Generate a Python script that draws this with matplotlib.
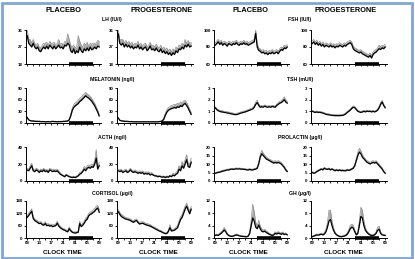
import numpy as np
import matplotlib
matplotlib.use("Agg")
import matplotlib.pyplot as plt
from matplotlib.patches import Rectangle

plt.rcParams['font.family'] = ['Liberation Sans', 'DejaVu Sans']
plt.rcParams['font.weight'] = 'bold'

W, H = 415, 259

hours = np.arange(0, 24.5, 0.5)
tick_hours = [0, 4, 8, 12, 16, 20, 24]
tick_labels = ["09", "13", "17", "21", "01", "05", "09"]
sleep_period = (14, 22)

col_titles = ["PLACEBO", "PROGESTERONE", "PLACEBO", "PROGESTERONE"]

# ---------------- data (mean, SEM) ----------------
lh_pla = [33, 29, 28, 27, 29, 27, 26, 27, 25, 24.5, 26, 27, 26, 27.5, 26, 28, 27, 26, 27.5, 26, 27, 28, 26.5, 27, 26,
          28, 27.5, 29, 28, 25, 24, 26, 23.5, 25, 24, 27, 25, 24, 26, 25, 26.5, 25, 27, 25.5, 26, 27, 26, 27.5, 27]
lh_pla_sem = [3, 2, 3, 2, 2, 2, 2, 2, 2, 2, 2, 2, 3, 2, 2, 2, 2, 3, 2, 2, 2, 3, 2, 2, 2,
              2, 2, 5, 3, 3, 3, 2, 3, 2, 9, 3, 3, 3, 3, 3, 3, 2, 2, 3, 3, 2, 3, 3, 3]
lh_pro = [34, 29, 28, 29, 27, 28.5, 27, 28, 26.5, 27.5, 26, 27, 26.5, 28, 26, 27, 25.5, 26.5, 27, 25, 26, 27.5, 25.5, 26, 25,
          26.5, 25, 24.5, 26, 24, 25, 23.5, 24.5, 23, 24, 22.5, 24, 23, 25, 24, 26, 25.5, 27, 26, 28, 27, 28.5, 27, 27.5]
lh_pro_sem = [2, 2, 3, 2, 2, 2, 2, 2, 2, 2, 2, 2, 2, 2, 2, 2, 2, 2, 2, 2, 2, 2, 2, 2, 2,
              2, 2, 2, 2, 2, 2, 2, 2, 2, 2, 2, 2, 2, 2, 2, 2, 2, 2, 2, 3, 2, 2, 2, 2]

fsh_pla = [82, 84, 86, 83, 85, 82, 84, 83, 81, 84, 83, 82, 84, 83, 85, 83, 82, 84, 83, 85, 83, 84, 82, 83, 84,
           85, 86, 96, 80, 76, 75, 73, 74, 72, 73, 71, 73, 72, 74, 72, 73, 74, 72, 75, 77, 76, 79, 78, 80]
fsh_pla_sem = [3, 3, 3, 3, 3, 3, 3, 3, 3, 3, 3, 3, 3, 3, 3, 3, 3, 3, 3, 3, 3, 3, 3, 3, 3,
               3, 3, 4, 4, 3, 3, 3, 3, 3, 3, 3, 3, 3, 3, 3, 3, 3, 3, 3, 3, 3, 3, 3, 3]
fsh_pro = [84, 86, 83, 85, 82, 84, 81, 83, 80, 82, 81, 80, 82, 80, 81, 79, 81, 80, 82, 81, 80, 82, 81, 83, 84,
           85, 83, 78, 76, 75, 74, 73, 74, 72, 71, 70, 69, 68, 70, 67, 71, 73, 74, 76, 78, 77, 79, 78, 80]
fsh_pro_sem = [3, 3, 3, 3, 3, 3, 3, 3, 3, 3, 3, 3, 3, 3, 3, 3, 3, 3, 3, 3, 3, 3, 3, 3, 3,
               3, 3, 3, 3, 3, 3, 3, 3, 3, 3, 3, 3, 3, 3, 3, 3, 3, 3, 3, 4, 3, 3, 4, 3]

mel_pla = [14, 8, 6, 5, 5, 4.5, 4, 4, 4, 3.5, 3.5, 3.5, 3, 3, 3.5, 3, 3.5, 4, 3.5, 3.5, 3, 3.5, 3.5, 3.5, 4,
           4, 4.5, 5, 8, 18, 32, 40, 44, 47, 50, 55, 58, 62, 66, 70, 66, 64, 60, 56, 50, 44, 36, 28, 18]
mel_pla_sem = [2, 1, 1, 1, 1, 1, 1, 1, 1, 1, 1, 1, 1, 1, 1, 1, 1, 1, 1, 1, 1, 1, 1, 1, 1,
               1, 1, 1, 2, 4, 6, 7, 8, 8, 8, 8, 8, 9, 9, 9, 9, 8, 8, 8, 7, 7, 6, 5, 4]
mel_pro = [13, 7, 5.5, 5, 4.5, 4, 4, 3.5, 3.5, 3.5, 3, 3, 3, 3, 3, 3, 3, 3, 3, 3, 3, 3, 3, 3, 3,
           3, 3, 3.5, 4, 5, 10, 20, 28, 33, 35, 37, 38, 40, 38, 42, 40, 45, 42, 48, 50, 45, 38, 30, 22]
mel_pro_sem = [2, 1, 1, 1, 1, 1, 1, 1, 1, 1, 1, 1, 1, 1, 1, 1, 1, 1, 1, 1, 1, 1, 1, 1, 1,
               1, 1, 1, 1, 2, 3, 5, 6, 7, 7, 8, 8, 8, 9, 9, 9, 9, 9, 9, 8, 8, 7, 6, 5]

tsh_pla = [1.3, 1.15, 1.05, 1.0, 0.95, 0.95, 0.9, 0.9, 0.85, 0.85, 0.8, 0.78, 0.75, 0.72, 0.72, 0.75, 0.8, 0.85,
           0.88, 0.92, 0.95, 1.0, 1.05, 1.1, 1.15, 1.2, 1.35, 1.6, 1.75, 1.5, 1.35, 1.4, 1.35, 1.45, 1.38, 1.35,
           1.4, 1.35, 1.42, 1.38, 1.35, 1.5, 1.6, 1.7, 1.75, 1.85, 2.0, 1.8, 1.7]
tsh_pla_sem = [0.1] * 26 + [0.15, 0.2, 0.2, 0.15, 0.1, 0.1, 0.1, 0.1, 0.1, 0.1, 0.1, 0.1, 0.1, 0.1, 0.1, 0.1,
                            0.15, 0.15, 0.15, 0.2, 0.25, 0.2, 0.15]
tsh_pro = [1.0, 0.95, 0.9, 0.95, 0.9, 0.92, 0.88, 0.85, 0.8, 0.75, 0.72, 0.7, 0.68, 0.65, 0.64, 0.63, 0.63, 0.63,
           0.63, 0.64, 0.65, 0.7, 0.78, 0.9, 1.0, 1.1, 1.25, 1.35, 1.3, 1.15, 1.0, 0.95, 0.9, 0.95, 1.0, 0.95,
           1.02, 0.98, 1.0, 0.95, 1.0, 0.95, 1.0, 1.1, 1.3, 1.6, 1.8, 1.5, 1.3]
tsh_pro_sem = [0.08] * 26 + [0.1, 0.12, 0.12, 0.1, 0.08, 0.08, 0.08, 0.08, 0.08, 0.08, 0.08, 0.08, 0.08, 0.08,
                             0.08, 0.08, 0.08, 0.1, 0.12, 0.15, 0.15, 0.12, 0.1]

acth_pla = [13, 12, 15, 18, 12, 11, 13, 12, 10, 12, 11, 13, 11, 12, 10, 13, 12, 11, 12, 11, 12, 10, 8, 7, 6,
            5, 7, 6, 5, 4.5, 4, 4.5, 4, 5, 6, 8, 9, 11, 14, 12, 15, 16, 15, 17, 16, 20, 27, 14, 18]
acth_pla_sem = [2, 2, 3, 3, 2, 2, 2, 2, 2, 2, 2, 2, 2, 2, 2, 2, 2, 2, 2, 2, 2, 2, 2, 1, 1,
                1, 1, 1, 1, 1, 1, 1, 1, 1, 1, 2, 2, 2, 3, 3, 3, 3, 3, 3, 3, 4, 10, 3, 4]
acth_pro = [12, 11, 12, 10, 11, 12, 10, 11, 13, 11, 10, 11, 10, 9, 10, 9, 10, 8, 9, 8, 9, 7, 8, 7, 6,
            6, 5, 5.5, 5, 4.5, 5, 4, 5, 4.5, 6, 5, 7, 6, 8, 9, 14, 12, 18, 15, 20, 25, 17, 16, 22]
acth_pro_sem = [2, 2, 2, 2, 2, 2, 2, 2, 2, 2, 2, 2, 2, 2, 2, 2, 2, 2, 2, 2, 2, 2, 2, 1, 1,
                1, 1, 1, 1, 1, 1, 1, 1, 1, 1, 1, 2, 2, 2, 3, 4, 3, 5, 4, 5, 6, 4, 4, 5]

prl_pla = [4.5, 4.8, 5.0, 5.2, 5.5, 5.8, 6.0, 6.2, 6.5, 6.5, 6.8, 7.0, 6.8, 7.0, 7.2, 7.0, 7.2, 7.0, 7.0, 6.8,
           6.8, 6.5, 6.5, 6.8, 6.5, 6.5, 6.8, 7.0, 7.5, 10, 14, 16, 15, 14, 13, 12.5, 12, 11.5, 11, 10.5, 11,
           10.5, 11, 10.5, 10, 9, 8, 6.5, 5.5]
prl_pla_sem = [0.5] * 28 + [0.8, 1.0, 1.5, 2.0, 1.5, 1.2, 1.2, 1.0, 1.0, 1.0, 1.0, 1.0, 1.0, 1.0, 1.0, 1.0,
                            1.0, 0.8, 0.8, 0.8, 0.6]
prl_pro = [5, 4.5, 4.8, 5.5, 6.0, 6.5, 7.0, 6.5, 7.5, 7.0, 6.8, 7.2, 6.5, 7.0, 6.5, 6.0, 6.5, 6.0, 6.5, 6.0,
           6.2, 6.0, 6.0, 6.5, 6.2, 6.5, 7.0, 7.5, 9, 12, 15, 17, 16, 14, 13, 12, 11, 10.5, 10, 10.5, 11, 10.5,
           11, 10, 9, 8, 7, 5.5, 4.5]
prl_pro_sem = [0.5] * 28 + [0.8, 1.2, 1.8, 2.2, 1.8, 1.5, 1.2, 1.0, 1.0, 1.0, 1.0, 1.0, 1.0, 1.0, 1.0, 1.0,
                            1.0, 0.8, 0.8, 0.7, 0.6]

cort_pla = [100, 110, 120, 130, 95, 85, 80, 75, 70, 72, 65, 62, 70, 60, 62, 58, 60, 55, 58, 60, 72, 58, 50, 45, 40,
            38, 33, 30, 45, 35, 28, 25, 24, 26, 28, 70, 55, 62, 72, 85, 92, 108, 115, 118, 125, 130, 140, 145, 125]
cort_pla_sem = [10, 10, 12, 12, 10, 8, 8, 8, 8, 8, 8, 8, 10, 8, 8, 8, 8, 8, 8, 8, 10, 8, 8, 6, 6,
                6, 6, 6, 8, 6, 5, 5, 5, 5, 5, 12, 8, 10, 10, 12, 12, 12, 12, 12, 12, 14, 14, 14, 14]
cort_pro = [128, 115, 105, 100, 95, 92, 90, 88, 85, 80, 76, 82, 85, 75, 68, 70, 72, 68, 65, 62, 60, 58, 54, 50, 46,
            42, 38, 34, 32, 27, 24, 21, 22, 32, 50, 34, 36, 38, 44, 50, 70, 90, 100, 120, 140, 155, 135, 118, 140]
cort_pro_sem = [10, 10, 10, 10, 10, 8, 8, 8, 8, 8, 8, 8, 8, 8, 8, 8, 8, 8, 8, 8, 8, 8, 6, 6, 6,
                6, 6, 5, 5, 5, 4, 4, 4, 6, 15, 6, 6, 6, 8, 8, 12, 14, 14, 15, 15, 15, 14, 14, 14]

gh_pla = [0.8, 1.0, 0.8, 1.2, 1.5, 2.0, 2.6, 2.0, 1.2, 0.8, 0.6, 0.5, 0.6, 0.8, 1.0, 0.9, 0.7, 0.6, 0.5, 0.5,
          0.4, 0.4, 0.6, 1.5, 4.0, 6.5, 5.5, 3.5, 3.0, 4.2, 3.0, 2.2, 2.0, 2.2, 1.8, 1.5, 1.2, 1.0, 0.8, 1.0,
          1.5, 1.3, 1.6, 1.4, 1.2, 1.5, 1.1, 1.3, 1.0]
gh_pla_sem = [0.3, 0.3, 0.3, 0.4, 0.5, 0.6, 0.8, 0.6, 0.4, 0.3, 0.2, 0.2, 0.2, 0.3, 0.3, 0.3, 0.2, 0.2, 0.2, 0.2,
              0.2, 0.2, 0.2, 0.6, 2.0, 4.5, 3.0, 1.5, 1.0, 1.5, 1.0, 0.8, 0.6, 0.6, 0.5, 0.5, 0.4, 0.3, 0.3, 0.3,
              0.5, 0.4, 0.5, 0.4, 0.4, 0.5, 0.3, 0.4, 0.3]
gh_pro = [0.4, 0.6, 0.8, 1.0, 0.9, 1.1, 1.2, 1.0, 1.3, 2.0, 3.5, 5.5, 6.0, 4.0, 2.5, 1.5, 1.0, 0.7, 0.5, 0.4,
          0.5, 0.6, 0.8, 1.2, 2.0, 3.0, 3.5, 3.2, 2.0, 1.0, 1.5, 4.0, 7.0, 6.5, 4.0, 2.5, 1.8, 1.3, 1.0, 0.8,
          0.8, 1.0, 1.5, 2.5, 2.8, 1.5, 1.0, 0.9, 0.8]
gh_pro_sem = [0.2, 0.2, 0.3, 0.3, 0.3, 0.3, 0.4, 0.3, 0.4, 0.8, 1.5, 3.5, 3.0, 1.5, 0.8, 0.5, 0.3, 0.2, 0.2, 0.2,
              0.2, 0.2, 0.3, 0.4, 0.6, 1.0, 1.0, 0.8, 0.6, 0.3, 0.5, 1.5, 3.0, 2.5, 1.5, 0.8, 0.5, 0.4, 0.3, 0.3,
              0.3, 0.3, 0.5, 1.0, 1.0, 0.5, 0.3, 0.3, 0.3]

hormone_labels = ["LH (IU/l)", "MELATONIN (ng/l)", "ACTH (ng/l)", "CORTISOL (\u00b5g/l)",
                  "FSH (IU/l)", "TSH (mU/l)", "PROLACTIN (\u00b5g/l)", "GH (\u00b5g/l)"]

panels = [
    # (row, col, mean, sem, yticks)
    (0, 0, lh_pla, lh_pla_sem, [18, 27, 36]),
    (0, 1, lh_pro, lh_pro_sem, [18, 27, 36]),
    (0, 2, fsh_pla, fsh_pla_sem, [60, 80, 100]),
    (0, 3, fsh_pro, fsh_pro_sem, [60, 80, 100]),
    (1, 0, mel_pla, mel_pla_sem, [0, 30, 60, 90]),
    (1, 1, mel_pro, mel_pro_sem, [0, 30, 60, 90]),
    (1, 2, tsh_pla, tsh_pla_sem, [0, 1, 2, 3]),
    (1, 3, tsh_pro, tsh_pro_sem, [0, 1, 2, 3]),
    (2, 0, acth_pla, acth_pla_sem, [0, 20, 40]),
    (2, 1, acth_pro, acth_pro_sem, [0, 20, 40]),
    (2, 2, prl_pla, prl_pla_sem, [0, 5, 10, 15, 20]),
    (2, 3, prl_pro, prl_pro_sem, [0, 5, 10, 15, 20]),
    (3, 0, cort_pla, cort_pla_sem, [0, 60, 120, 180]),
    (3, 1, cort_pro, cort_pro_sem, [0, 60, 120, 180]),
    (3, 2, gh_pla, gh_pla_sem, [0, 4, 8, 12]),
    (3, 3, gh_pro, gh_pro_sem, [0, 4, 8, 12]),
]

# ---------------- layout (pixels) ----------------
col_px = [(26, 101), (117, 193), (214, 289), (311, 387)]
row_px = [(30, 64), (88, 123), (147, 181), (201, 238)]

fig = plt.figure(figsize=(W / 100, H / 100), dpi=100)
fig.patch.set_facecolor("white")


def add_ax(x0, x1, y0, y1):
    return fig.add_axes([x0 / W, 1 - y1 / H, (x1 - x0) / W, (y1 - y0) / H])


for (r, c, mean, sem, yt) in panels:
    x0, x1 = col_px[c]
    y0, y1 = row_px[r]
    ax = add_ax(x0, x1, y0, y1)
    m = np.array(mean, dtype=float)
    s = np.array(sem, dtype=float)
    ax.fill_between(hours, m, m + s, color="#aaaaaa", lw=0, zorder=1)
    ax.plot(hours, m + s, color="#8c8c8c", lw=0.5, zorder=1)
    ax.plot(hours, m, color="black", lw=0.9, zorder=2)
    ax.set_xlim(-0.4, 24.6)
    ax.set_ylim(yt[0], yt[-1])
    ax.set_yticks(yt)
    ax.set_yticklabels([str(v) for v in yt], fontsize=3.2, fontweight="bold")
    ax.set_xticks(tick_hours)
    ax.set_xticks(np.arange(2, 24, 4), minor=True)
    if r == 3:
        ax.set_xticklabels(tick_labels, fontsize=3.2, fontweight="bold")
    else:
        ax.set_xticklabels([])
    ax.tick_params(axis="both", which="both", direction="out", length=1.5, width=0.6, pad=1)
    for sp in ("top", "right"):
        ax.spines[sp].set_visible(False)
    for sp in ("left", "bottom"):
        ax.spines[sp].set_linewidth(0.7)
    ax.plot(sleep_period, [yt[0], yt[0]], color="black", lw=2.6, solid_capstyle="butt",
            clip_on=False, zorder=3)
    ax.set_facecolor("none")

# column titles
title_x = [63, 162, 250, 346]
for x, t in zip(title_x, col_titles):
    fig.text(x / W, 1 - 10 / H, t, ha="center", va="center", fontsize=5.3, fontweight="bold")

# hormone labels
label_y = [19, 79, 137, 194]
for i, lab in enumerate(hormone_labels):
    col = i // 4
    row = i % 4
    x = 112 if col == 0 else 300
    fig.text(x / W, 1 - label_y[row] / H, lab, ha="center", va="center", fontsize=3.7, fontweight="bold")

# x-axis titles
for x in [62, 158, 248, 343]:
    fig.text(x / W, 1 - 252 / H, "CLOCK TIME", ha="center", va="center", fontsize=4.5, fontweight="bold")

# blue frame
fig.patches.append(Rectangle((1.5 / W, 1.5 / H), (W - 5) / W, (H - 4) / H, transform=fig.transFigure,
                             fill=False, edgecolor="#7fa6d9", lw=2.0))

fig.savefig("out.png", dpi=100)
